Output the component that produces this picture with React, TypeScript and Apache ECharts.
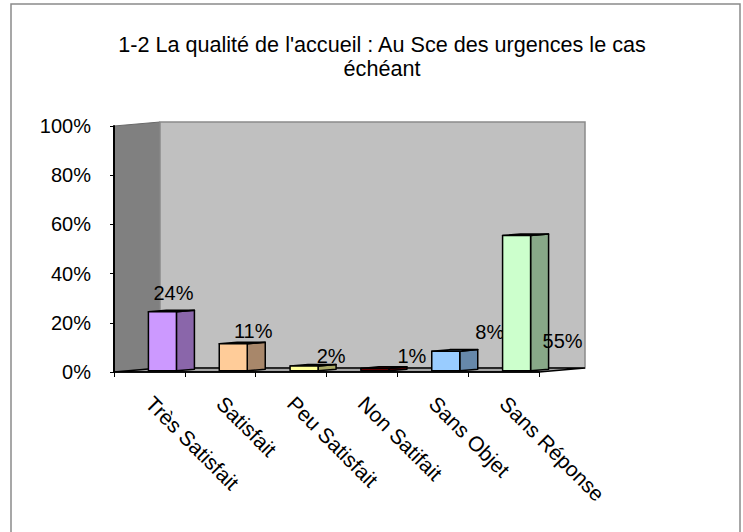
import React, { useEffect, useRef } from "react";
import * as echarts from "echarts";

const TITLE = "1-2 La qualité de l'accueil : Au Sce des urgences le cas\néchéant";
const CATEGORIES = ["Très Satisfait", "Satisfait", "Peu Satisfait", "Non Satifait", "Sans Objet", "Sans Réponse"];
const VALUES = [0.24, 0.11, 0.02, 0.01, 0.08, 0.55];
const Y_MIN = 0;
const Y_MAX = 1;
const Y_STEP = 0.2;

const FRONT_COLORS = ["#CC99FF", "#FFCC99", "#FFFF99", "#800000", "#99CCFF", "#CCFFCC"];
const SIDE_COLORS = ["#8A66AA", "#A8876A", "#AAAA66", "#500000", "#6688AA", "#88A888"];
// label centre offsets relative to the bar's front top-left corner (px)
const LABEL_OFFSETS = [
  [25, -19],
  [34, -12.5],
  [41, -10],
  [51, -12],
  [58, -19.5],
  [60, 105],
];

const FONT = "'Liberation Sans', Arial, sans-serif";
const DEPTH_X = 46;
const DEPTH_Y = -4;
const BAR_D0 = 13;
const BAR_D1 = 31;
const BAR_HALF = 14;

export default function App() {
  const ref = useRef<HTMLDivElement>(null);
  useEffect(() => {
    if (!ref.current) return;
    const chart = echarts.init(ref.current, null, { renderer: "svg" });
    const k = DEPTH_Y / DEPTH_X;
    const n = CATEGORIES.length;

    const option: any = {
      animation: false,
      backgroundColor: "#ffffff",
      title: {
        text: TITLE,
        left: 382,
        top: 32,
        padding: 0,
        textAlign: "center",
        textStyle: {
          fontFamily: FONT,
          fontSize: 21.6,
          fontWeight: "normal",
          color: "#000",
          lineHeight: 24,
        },
      },
      graphic: [
        {
          type: "rect",
          shape: { x: 11, y: 4, width: 729, height: 540 },
          style: { fill: "none", stroke: "#8a8a8a", lineWidth: 1.5 },
          z: -10,
        },
      ],
      grid: { left: 114, right: 204, top: 126, bottom: 160, containLabel: false },
      xAxis: {
        type: "category",
        data: CATEGORIES,
        axisLine: { show: true, lineStyle: { color: "#000", width: 1.5 } },
        axisTick: { show: true, length: 5, alignWithLabel: false, lineStyle: { color: "#000" } },
        axisLabel: {
          rotate: -45,
          margin: 28,
          fontFamily: FONT,
          fontSize: 21,
          color: "#000",
          interval: 0,
        },
        splitLine: { show: false },
      },
      yAxis: {
        type: "value",
        min: Y_MIN,
        max: Y_MAX,
        interval: Y_STEP,
        axisLine: { show: true, lineStyle: { color: "#000", width: 2 } },
        axisTick: { show: true, length: 4, lineStyle: { color: "#000" } },
        axisLabel: {
          margin: 23,
          fontFamily: FONT,
          fontSize: 20,
          color: "#000",
          formatter: (v: number) => Math.round(v * 100) + "%",
        },
        splitLine: { show: false },
      },
      series: [
        {
          type: "custom",
          z: -1,
          silent: true,
          clip: false,
          data: [[0, 0]],
          renderItem: (params: any, api: any) => {
            const cw = api.size([1, 0])[0];
            const p0 = api.coord([0, Y_MIN]);
            const pTop = api.coord([0, Y_MAX]);
            const pl = api.coord([n - 1, Y_MIN]);
            const x0 = p0[0] - cw / 2;
            const x1 = pl[0] + cw / 2;
            const y0 = p0[1];
            const y1 = pTop[1];
            return {
              type: "group",
              children: [
                {
                  type: "polygon",
                  shape: {
                    points: [
                      [x0, y1],
                      [x0 + DEPTH_X, y1 + DEPTH_Y],
                      [x0 + DEPTH_X, y0 + DEPTH_Y],
                      [x0, y0],
                    ],
                  },
                  style: { fill: "#808080", stroke: "#6a6a6a", lineWidth: 1 },
                },
                {
                  type: "polygon",
                  shape: {
                    points: [
                      [x0 + DEPTH_X, y1 + DEPTH_Y],
                      [x1 + DEPTH_X, y1 + DEPTH_Y],
                      [x1 + DEPTH_X, y0 + DEPTH_Y],
                      [x0 + DEPTH_X, y0 + DEPTH_Y],
                    ],
                  },
                  style: { fill: "#C0C0C0", stroke: "#8a8a8a", lineWidth: 1.5 },
                },
                {
                  type: "polygon",
                  shape: {
                    points: [
                      [x0, y0],
                      [x0 + DEPTH_X, y0 + DEPTH_Y],
                      [x1 + DEPTH_X, y0 + DEPTH_Y],
                      [x1, y0],
                    ],
                  },
                  style: { fill: "#A6A6A6", stroke: "#000", lineWidth: 1.5 },
                },
              ],
            };
          },
        },
        {
          type: "custom",
          z: 3,
          clip: false,
          data: VALUES.map((v, i) => [i, v]),
          renderItem: (params: any, api: any) => {
            const i = api.value(0);
            const v = api.value(1);
            const base = api.coord([i, 0]);
            const top = api.coord([i, v]);
            const xL = base[0] - BAR_HALF + BAR_D0;
            const xR = base[0] + BAR_HALF + BAR_D0;
            const yb = base[1] + BAR_D0 * k;
            const yt = top[1] + BAR_D0 * k;
            const sd = BAR_D1 - BAR_D0;
            const sdy = sd * k;
            const stroke = { stroke: "#000", lineWidth: 1.5, lineJoin: "round" };
            const off = LABEL_OFFSETS[i];
            return {
              type: "group",
              children: [
                {
                  type: "polygon",
                  shape: { points: [[xR, yb], [xR, yt], [xR + sd, yt + sdy], [xR + sd, yb + sdy]] },
                  style: { fill: SIDE_COLORS[i], ...stroke },
                },
                {
                  type: "polygon",
                  shape: { points: [[xL, yt], [xR, yt], [xR + sd, yt + sdy], [xL + sd, yt + sdy]] },
                  style: { fill: FRONT_COLORS[i], ...stroke },
                },
                {
                  type: "polygon",
                  shape: { points: [[xL, yb], [xL, yt], [xR, yt], [xR, yb]] },
                  style: { fill: FRONT_COLORS[i], ...stroke },
                },
                {
                  type: "text",
                  x: xL + off[0],
                  y: yt + off[1],
                  style: {
                    text: Math.round(v * 100) + "%",
                    fontFamily: FONT,
                    fontSize: 20,
                    fill: "#000",
                    align: "center",
                    verticalAlign: "middle",
                  },
                },
              ],
            };
          },
        },
      ],
    };
    chart.setOption(option);
    return () => chart.dispose();
  }, []);
  return (
    <div
      ref={ref}
      style={{ position: "absolute", left: 0, top: 0, width: 743, height: 532 }}
    />
  );
}
